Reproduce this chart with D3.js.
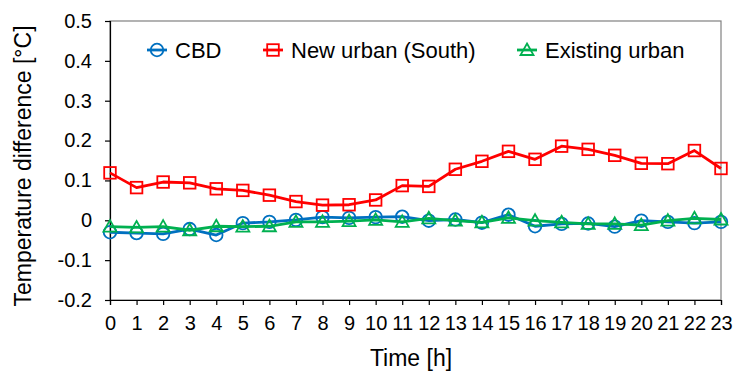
<html lang="en">
<head>
<meta charset="UTF-8">
<title>Temperature difference</title>
<style>
    body { margin:0; background:#fff; }
    text { font-family: "Liberation Sans", Arial, sans-serif; fill:#000; }
</style>
</head>
<body>
<div id="chart"></div>
<script src="https://d3js.org/d3.v7.min.js"></script>
<script>
// hours on the x axis
const hours = d3.range(0, 24);
const yTicks = [-0.2, -0.1, 0, 0.1, 0.2, 0.3, 0.4, 0.5];

// values
const cbd = [-0.030, -0.032, -0.034, -0.022, -0.037, -0.007, -0.004, 0.001, 0.008, 0.006, 0.008, 0.009,
             -0.001, 0.002, -0.006, 0.014, -0.015, -0.009, -0.008, -0.016, -0.001, -0.004, -0.007, -0.004];
const newUrban = [0.119, 0.082, 0.096, 0.094, 0.079, 0.075, 0.063, 0.047, 0.038, 0.039, 0.051, 0.087,
                  0.085, 0.128, 0.148, 0.173, 0.153, 0.186, 0.178, 0.163, 0.143, 0.142, 0.175, 0.130];
const existing = [-0.016, -0.018, -0.016, -0.025, -0.015, -0.016, -0.015, -0.004, -0.004, -0.002, 0.001, -0.004,
                  0.005, -0.001, -0.005, 0.006, -0.001, -0.005, -0.009, -0.009, -0.012, -0.001, 0.005, 0.002];

const seriesNames = ["CBD", "New urban (South)", "Existing urban"];
const seriesColors = ["#0070C0", "#FF0000", "#00B050"];
const seriesShapes = ["circle", "square", "triangle"];
const seriesValues = [cbd, newUrban, existing];

const W = 735, H = 374;
const margin = {top: 21, right: 14, bottom: 74, left: 110};
const width = W - margin.left - margin.right,
      height = H - margin.top - margin.bottom;

const svg = d3.select("#chart").append("svg")
    .attr("width", W).attr("height", H);

const g = svg.append("g")
    .attr("transform", "translate(" + margin.left + "," + margin.top + ")");

const x = d3.scaleLinear().domain([0, 23]).range([0, width]);
const y = d3.scaleLinear().domain([-0.2, 0.5]).range([height, 0]);

// plot frame
g.append("rect")
    .attr("width", width).attr("height", height)
    .attr("fill", "none").attr("stroke", "#808080").attr("stroke-width", 1.2);

const fmt = d => d === 0 ? "0" : d.toFixed(1);

const yAxis = g.append("g")
    .call(d3.axisLeft(y).tickValues(yTicks).tickFormat(fmt).tickSize(5).tickPadding(13));
const xAxis = g.append("g")
    .attr("transform", "translate(0," + height + ")")
    .call(d3.axisBottom(x).tickValues(hours).tickFormat(d => d).tickSize(5).tickPadding(11));

[yAxis, xAxis].forEach(a => {
    a.selectAll("path.domain").attr("stroke", "#000").attr("stroke-width", 1.2);
    a.selectAll(".tick line").attr("stroke", "#000").attr("stroke-width", 1.2);
    a.selectAll("text").style("font-size", "20px").attr("fill", "#000")
        .style("font-family", "'Liberation Sans', Arial, sans-serif");
});

// marker drawing
function marker(sel, shape, color) {
    if (shape === "circle") {
        sel.append("circle").attr("r", 6.3);
    } else if (shape === "square") {
        sel.append("rect").attr("x", -5.8).attr("y", -5.8).attr("width", 11.6).attr("height", 11.6);
    } else {
        sel.append("path").attr("d", "M0,-6.5L6.5,5L-6.5,5Z");
    }
    sel.selectAll("*").attr("fill", "none").attr("stroke", color).attr("stroke-width", 1.8);
}

const line = d3.line().x((d, i) => x(hours[i])).y(d => y(d));

seriesValues.forEach((vals, k) => {
    g.append("path")
        .datum(vals)
        .attr("d", line)
        .attr("fill", "none")
        .attr("stroke", seriesColors[k])
        .attr("stroke-width", 2.8)
        .attr("stroke-linejoin", "round");
    g.append("g").selectAll("g")
        .data(vals)
        .enter().append("g")
        .attr("transform", (d, i) => "translate(" + x(hours[i]) + "," + y(d) + ")")
        .each(function() { marker(d3.select(this), seriesShapes[k], seriesColors[k]); });
});

// legend
const legendX = [157, 273, 527];
const legend = svg.append("g");
seriesNames.forEach((name, k) => {
    const item = legend.append("g").attr("transform", "translate(" + legendX[k] + ",50)");
    item.append("line").attr("x1", -10).attr("x2", 10)
        .attr("stroke", seriesColors[k]).attr("stroke-width", 2.8);
    marker(item.append("g"), seriesShapes[k], seriesColors[k]);
    item.append("text").attr("x", 18).attr("dy", "0.36em")
        .style("font-size", "22px").text(name);
});

// axis titles
svg.append("text")
    .attr("x", 411).attr("y", 366)
    .attr("text-anchor", "middle")
    .style("font-size", "23px")
    .text("Time [h]");

svg.append("text")
    .attr("transform", "translate(31,166) rotate(-90)")
    .attr("text-anchor", "middle")
    .style("font-size", "23px")
    .text("Temperature difference [°C]");
</script>
</body>
</html>
